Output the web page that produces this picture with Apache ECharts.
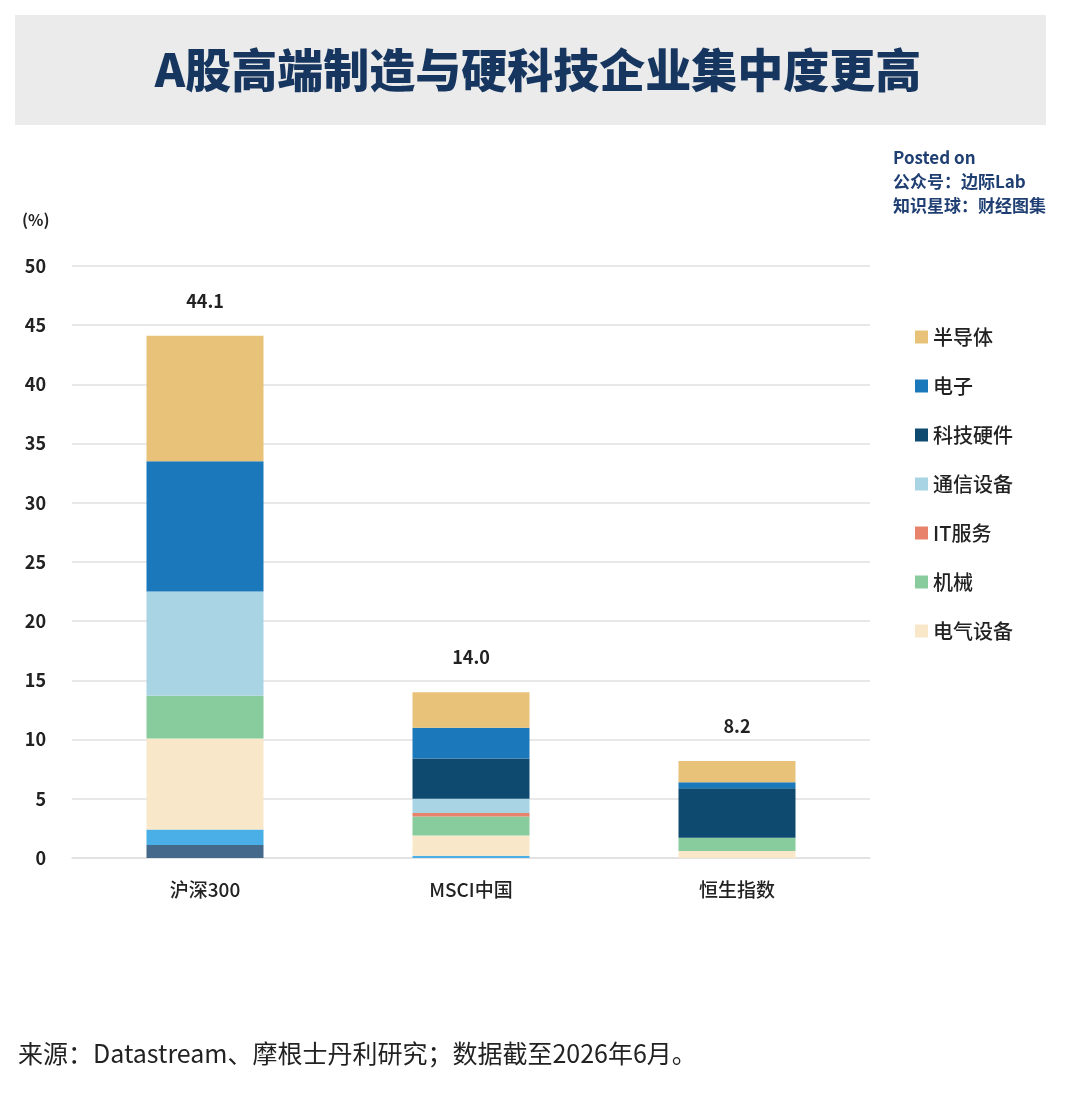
<!DOCTYPE html>
<html lang="zh-CN">
<head>
    <meta charset="UTF-8">
    <title>A股高端制造与硬科技企业集中度更高</title>
    <script src="https://cdn.jsdelivr.net/npm/echarts@6/dist/echarts.min.js"></script>
    <style>
        html, body {
            margin: 0;
            padding: 0;
            width: 100%;
            height: 100%;
            background: #fff;
        }

        #main {
            width: 1076px;
            height: 1096px;
        }
    </style>
</head>
<body>
<div id="main"></div>
<script>
    // 数据（单位：%），自下而上堆叠
    let categories = ['沪深300', 'MSCI中国', '恒生指数'];
    let totals = [44.1, 14.0, 8.2];
    let yTicks = [0, 5, 10, 15, 20, 25, 30, 35, 40, 45, 50];

    let baseDark = [1.1, 0, 0];
    let baseBlue = [1.3, 0.2, 0];
    let electricEquip = [7.7, 1.7, 0.6];
    let machinery = [3.6, 1.6, 1.1];
    let itService = [0, 0.3, 0];
    let telecomEquip = [8.8, 1.2, 0];
    let techHardware = [0, 3.4, 4.2];
    let electronics = [11.0, 2.6, 0.5];
    let semiconductor = [10.6, 3.0, 1.8];

    let legendNames = ['半导体', '电子', '科技硬件', '通信设备', 'IT服务', '机械', '电气设备'];

    let font = '"Noto Sans CJK SC", "Noto Sans", sans-serif';

    function bar(name, data, color) {
        return {
            name: name,
            type: 'bar',
            stack: 'total',
            barWidth: 117,
            data: data,
            itemStyle: {color: color},
            emphasis: {disabled: true}
        };
    }

    let series = [
        bar('科技硬件 ', baseDark, '#44698A'),
        bar('电子 ', baseBlue, '#4AAFE6'),
        bar('电气设备', electricEquip, '#F8E7C9'),
        bar('机械', machinery, '#88CB9D'),
        bar('IT服务', itService, '#E8826A'),
        bar('通信设备', telecomEquip, '#A8D4E3'),
        bar('科技硬件', techHardware, '#0E4A70'),
        bar('电子', electronics, '#1A78BB'),
        bar('半导体', semiconductor, '#E9C27A'),
        {
            name: '合计',
            type: 'bar',
            stack: 'total',
            barWidth: 117,
            data: [0, 0, 0],
            itemStyle: {color: 'transparent'},
            label: {
                show: true,
                position: 'top',
                distance: 26,
                formatter: function (p) {
                    return totals[p.dataIndex].toFixed(1);
                },
                fontFamily: font,
                fontSize: 18,
                fontWeight: 'bold',
                color: '#222'
            }
        }
    ];

    let myChart = echarts.init(document.getElementById('main'));
    let option = {
        backgroundColor: '#fff',
        animation: false,
        title: {
            text: 'A股高端制造与硬科技企业集中度更高',
            left: 'center',
            top: 42,
            textStyle: {
                fontFamily: font,
                fontSize: 46,
                fontWeight: 900,
                color: '#17365F'
            }
        },
        graphic: [
            {
                type: 'rect',
                z: -1,
                shape: {x: 15, y: 15, width: 1031, height: 110},
                style: {fill: '#EBEBEB'}
            },
            {
                type: 'text',
                left: 893,
                top: 146,
                style: {
                    text: 'Posted on\n公众号：边际Lab\n知识星球：财经图集',
                    font: '600 17px ' + font,
                    lineHeight: 24,
                    fill: '#1F3F73'
                }
            },
            {
                type: 'text',
                left: 22,
                top: 212,
                style: {
                    text: '(%)',
                    font: '600 16px ' + font,
                    fill: '#222'
                }
            },
            {
                type: 'text',
                left: 18,
                top: 1041,
                style: {
                    text: '来源：Datastream、摩根士丹利研究；数据截至2026年6月。',
                    font: '25px ' + font,
                    fill: '#222'
                }
            }
        ],
        legend: {
            data: legendNames,
            orient: 'vertical',
            left: 910,
            top: 322,
            itemWidth: 13,
            itemHeight: 13,
            itemGap: 29,
            icon: 'rect',
            textStyle: {
                fontFamily: font,
                fontSize: 20,
                fontWeight: 500,
                color: '#222'
            }
        },
        grid: {
            left: 72,
            right: 206,
            top: 266,
            bottom: 238
        },
        xAxis: {
            type: 'category',
            data: categories,
            axisLine: {lineStyle: {color: '#E0E0E0', width: 1.5}},
            axisTick: {show: false},
            axisLabel: {
                margin: 22,
                fontFamily: font,
                fontSize: 19,
                fontWeight: 500,
                color: '#222'
            }
        },
        yAxis: {
            type: 'value',
            min: yTicks[0],
            max: yTicks[yTicks.length - 1],
            interval: yTicks[1] - yTicks[0],
            axisLine: {show: false},
            axisTick: {show: false},
            splitLine: {lineStyle: {color: '#E0E0E0', width: 1.5}},
            axisLabel: {
                margin: 26,
                fontFamily: font,
                fontSize: 18,
                fontWeight: 'bold',
                color: '#222'
            }
        },
        series: series
    };

    myChart.setOption(option);
</script>
</body>
</html>
